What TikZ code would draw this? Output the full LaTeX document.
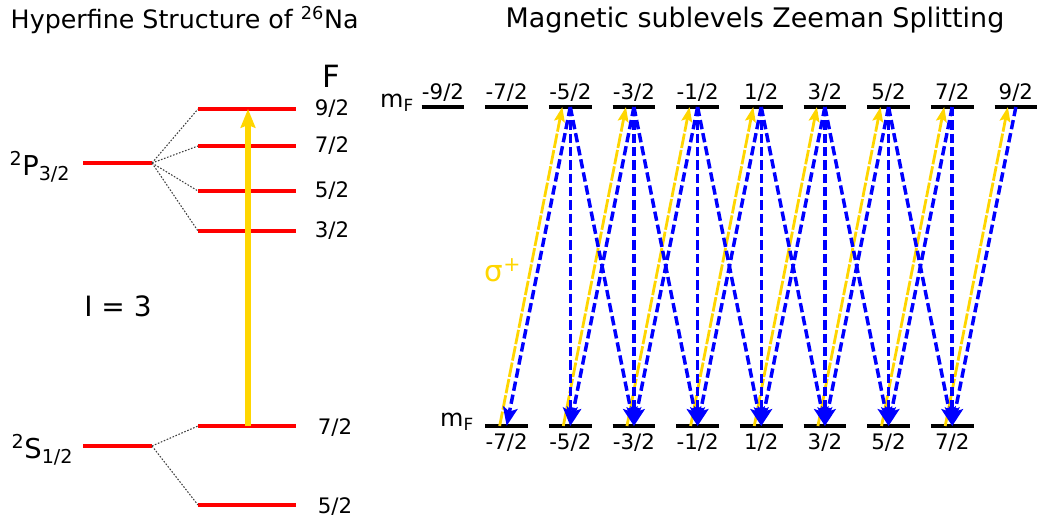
\documentclass[tikz,border=0pt]{standalone}
\usepackage{fontspec}
\setmainfont{DejaVu Sans}
\usetikzlibrary{arrows.meta}
\definecolor{lvlred}{RGB}{255,0,0}
\definecolor{pumpyel}{RGB}{255,214,0}
\definecolor{decblue}{RGB}{0,0,255}

\begin{document}
\begin{tikzpicture}[x=.75pt,y=-.75pt]
\tikzset{
 hfs/.style={draw=lvlred,line width=2.6pt},
 zlvl/.style={line width=2.5pt},
 split/.style={dash pattern=on 1.2pt off 1.2pt,black!75,line width=.8pt},
 bigpump/.style={pumpyel,line width=3.8pt,-{Stealth[length=14pt,width=11pt,inset=2pt]}},
 pump/.style={pumpyel,line width=2.1pt,dash pattern=on 11pt off 1.5pt,-{Stealth[length=11pt,width=8pt,inset=2pt]}},
 decay/.style={decblue,line width=2.6pt,dash pattern=on 7pt off 3pt,-{Stealth[length=14pt,width=11pt,inset=3pt]}},
 lbl/.style={font=\fontsize{16}{19}\selectfont},
 big/.style={font=\fontsize{19}{22}\selectfont},
}
\useasboundingbox (0,0) rectangle (1041,523);

% titles
\node[big,anchor=west] (title1) at (6,20) {Hyperfine Structure of \textsuperscript{26}Na};
\node[big,font=\fontsize{20.2}{24}\selectfont] (title2) at (755,20) {Magnetic sublevels Zeeman Splitting};

% fine structure
\coordinate (P0) at (83,163); \coordinate (P1) at (152,163);
\coordinate (S0) at (83,446); \coordinate (S1) at (152,446);
\draw[hfs] (P0)--(P1);
\draw[hfs] (S0)--(S1);
\node[anchor=east,font=\fontsize{20.5}{24}\selectfont] (Plbl) at (75,167) {\textsuperscript{2}P\textsubscript{3/2}};
\node[anchor=east,font=\fontsize{20.5}{24}\selectfont] (Slbl) at (78,450) {\textsuperscript{2}S\textsubscript{1/2}};
\node[font=\fontsize{21}{25}\selectfont] (spin) at (118,306) {I = 3};

% hyperfine levels
\node[font=\fontsize{23}{26}\selectfont] (Fhead) at (331,76) {F};
\foreach \y/\f in {109/9,146/7,191/5,231/3}{
 \coordinate (FP\f) at (198,\y);
 \draw[hfs] (FP\f) -- ++(98,0);
 \draw[split] (P1) -- (FP\f);
 \node[lbl] (FPl\f) at (332,\y) {\f/2};
}
\foreach \y/\f in {426/7,505/5}{
 \coordinate (FS\f) at (198,\y);
 \draw[hfs] (FS\f) -- ++(98,0);
 \draw[split] (S1) -- (FS\f);
 \node[lbl] (FSl\f) at (335,\y+2) {\f/2};
}
\coordinate (pumpS) at (248,426);
\coordinate (pumpP) at (248,109);
\draw[bigpump] (pumpS) -- (pumpP);

% Zeeman sublevels
\node[font=\fontsize{18}{21}\selectfont] (mfu) at (397,103) {m\textsubscript{F}};
\node[font=\fontsize{18}{21}\selectfont] (mfl) at (457,422) {m\textsubscript{F}};
\foreach \i in {0,...,9}{
 \pgfmathsetmacro\cx{443+63.65*\i}
 \pgfmathtruncatemacro\n{2*\i-9}
 \coordinate (u\i) at (\cx,107);
 \draw[zlvl] ([xshift=-16pt]u\i) -- ([xshift=16pt]u\i);
 \node[lbl] (ul\i) at (\cx,93) {\n/2};
}
\foreach \i in {1,...,8}{
 \pgfmathsetmacro\cx{443+63.65*\i}
 \pgfmathtruncatemacro\n{2*\i-9}
 \coordinate (l\i) at (\cx,426);
 \draw[zlvl] ([xshift=-16pt]l\i) -- ([xshift=16pt]l\i);
 \node[lbl] (ll\i) at (\cx,443) {\n/2};
}

% sigma+ pumping
\node[pumpyel,font=\fontsize{22}{26}\selectfont] (sig) at (503,270) {σ\textsuperscript{+}};
\foreach \i in {1,...,8}{
 \pgfmathtruncatemacro\j{\i+1}
 \draw[pump] ([xshift=-5.25pt]l\i) -- ([xshift=-6pt]u\j);
}

% spontaneous decay
\foreach \i in {2,...,9}{
 \foreach \d in {-1,0,1}{
  \pgfmathtruncatemacro\j{\i+\d}
  \ifnum\j>0 \ifnum\j<9 \draw[decay] (u\i) -- (l\j); \fi\fi
 }
}
\end{tikzpicture}
\end{document}
